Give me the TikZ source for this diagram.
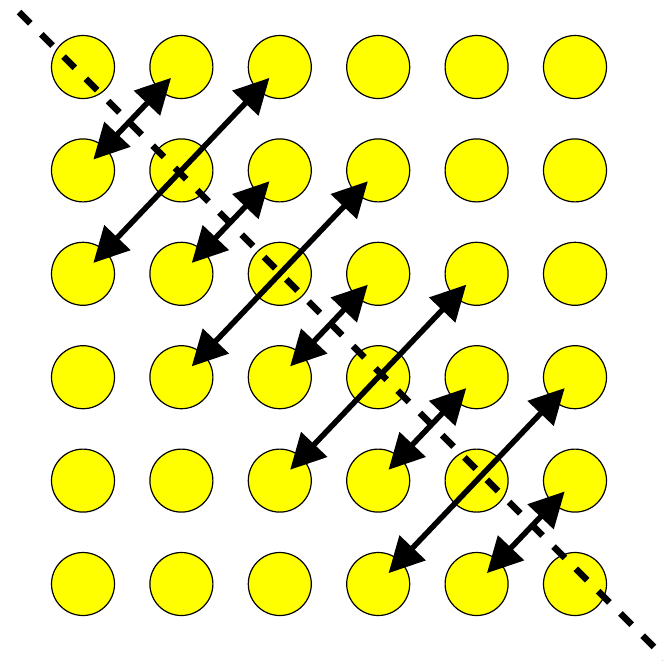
\documentclass[tikz,border=0pt]{standalone}
\usetikzlibrary{arrows.meta}
\definecolor{siteyellow}{RGB}{255,255,0}
\begin{document}
\begin{tikzpicture}[
  x=1pt, y=-1pt,
  dot/.style={circle, draw=black, line width=1.2pt, fill=siteyellow, minimum size=63pt, inner sep=0pt},
  diag/.style={line width=6.5pt, dash pattern=on 16pt off 15.5pt},
  pair/.style={{Triangle[length=35pt,width=35pt]}-{Triangle[length=35pt,width=35pt]}, line width=5.5pt, shorten >=15pt, shorten <=15pt}
]
\clip (0,0) rectangle (663,662);
% --- grid of sites ---
\foreach \r in {0,...,5}
  \foreach \c in {0,...,5}
    \node[dot] (p\r\c) at ({83+98.4*\c},{67+103.4*\r}) {};
% --- diagonal ---
\coordinate (dstart) at (19,12);
\coordinate (dend) at (680,673);
\draw[diag] (dstart) -- (dend);
% --- exchanged pairs ---
\foreach \a/\b in {01/10, 02/20, 12/21, 13/31, 23/32, 24/42, 34/43, 35/53, 45/54}
  \draw[pair] (p\a.center) -- (p\b.center);
\end{tikzpicture}
\end{document}
